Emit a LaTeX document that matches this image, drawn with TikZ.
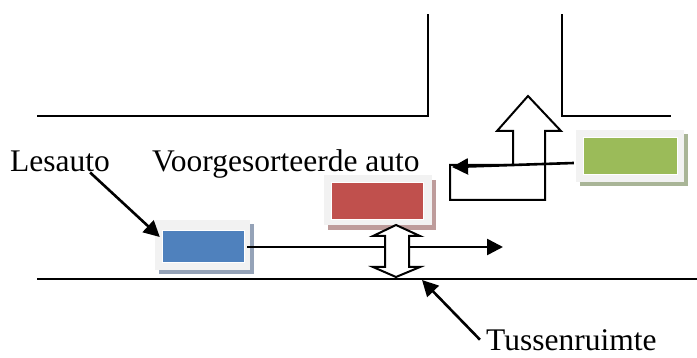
\documentclass[tikz,border=0pt]{standalone}
\usepackage{fontspec}
\setmainfont{Liberation Serif}
\usetikzlibrary{arrows.meta,calc}
\definecolor{framegrey}{HTML}{F2F2F2}
\definecolor{carblue}{HTML}{4F81BD}
\definecolor{carred}{HTML}{C0504D}
\definecolor{cargreen}{HTML}{9BBB59}
\definecolor{shblue}{HTML}{95A3B8}
\definecolor{shred}{HTML}{BE9C9B}
\definecolor{shgreen}{HTML}{A9B597}
\tikzset{
  road/.style={line width=2.2pt,line cap=rect},
  arr/.style={line width=2.6pt,-{Triangle[length=16pt,width=16pt]}},
  outline/.style={draw=black,fill=white,line width=2pt,line join=miter},
  frame/.style={fill=framegrey,inner sep=0pt,draw=none},
  shadowbox/.style={inner sep=0pt,draw=none},
  inner/.style={inner sep=0pt,draw=white,line width=0.6pt},
  lbl/.style={inner sep=0pt,anchor=base west,font=\fontsize{31.5}{34}\selectfont}
}
\begin{document}
\begin{tikzpicture}[x=1pt,y=-1pt]
\useasboundingbox (0,0) rectangle (697,358);
% road edges
\draw[road] (38,116) -- (428,116) -- (428,15);
\draw[road] (562,15) -- (562,116) -- (670,116);
\draw[road] (38,279) -- (697,279);
\coordinate (gap) at (422,280);
% blue car (Lesauto)
\node[shadowbox,fill=shblue,minimum width=95pt,minimum height=50pt] at (206.5,249) {};
\node[frame,minimum width=95pt,minimum height=50pt] (bluef) at (202.5,245) {};
\node[inner,fill=carblue,minimum width=82pt,minimum height=32pt] (blue) at (203,246) {};
% straight arrow of the Lesauto
\coordinate (hend) at (503,247);
\draw[arr] ($(bluef.east)+(-3,2)$) -- (hend);
% red car
\node[shadowbox,fill=shred,minimum width=108pt,minimum height=50pt] at (382,205) {};
\node[frame,minimum width=108pt,minimum height=50pt] (redf) at (378,200) {};
\node[inner,fill=carred,minimum width=92pt,minimum height=37pt] (red) at (377,200.5) {};
% gap double arrow
\draw[outline] (396,225) -- (420,236) -- (409,236) -- (409,267) -- (420,267)
  -- (396,277) -- (373,267) -- (385,267) -- (385,236) -- (373,236) -- cycle;
% bent outline arrow
\draw[outline] (450,200) -- (545,200) -- (545,131) -- (561,131) -- (528,96)
  -- (497,131) -- (513,131) -- (513,165) -- (450,165) -- cycle;
\coordinate (bentL) at (452,167);
% green car
\node[shadowbox,fill=shgreen,minimum width=108pt,minimum height=52pt] at (634,160) {};
\node[frame,minimum width=108pt,minimum height=52pt] (greenf) at (630,156) {};
\node[inner,fill=cargreen,minimum width=94pt,minimum height=37pt] (green) at (630,155.5) {};
\draw[arr] ($(greenf.west)+(-2,7)$) -- (bentL);
% labels
\node[lbl] (lesauto) at (10,172) {Lesauto};
\node[lbl] (voorg) at (152,172) {Voorgesorteerde auto};
\node[lbl] (tussen) at (486,351) {Tussenruimte};
\draw[arr] ($(lesauto.south east)+(-20,0)$) -- ($(bluef.west)+(5,-8)$);
\draw[arr] ($(tussen.west)+(-6,-1)$) -- (gap);
\end{tikzpicture}
\end{document}
